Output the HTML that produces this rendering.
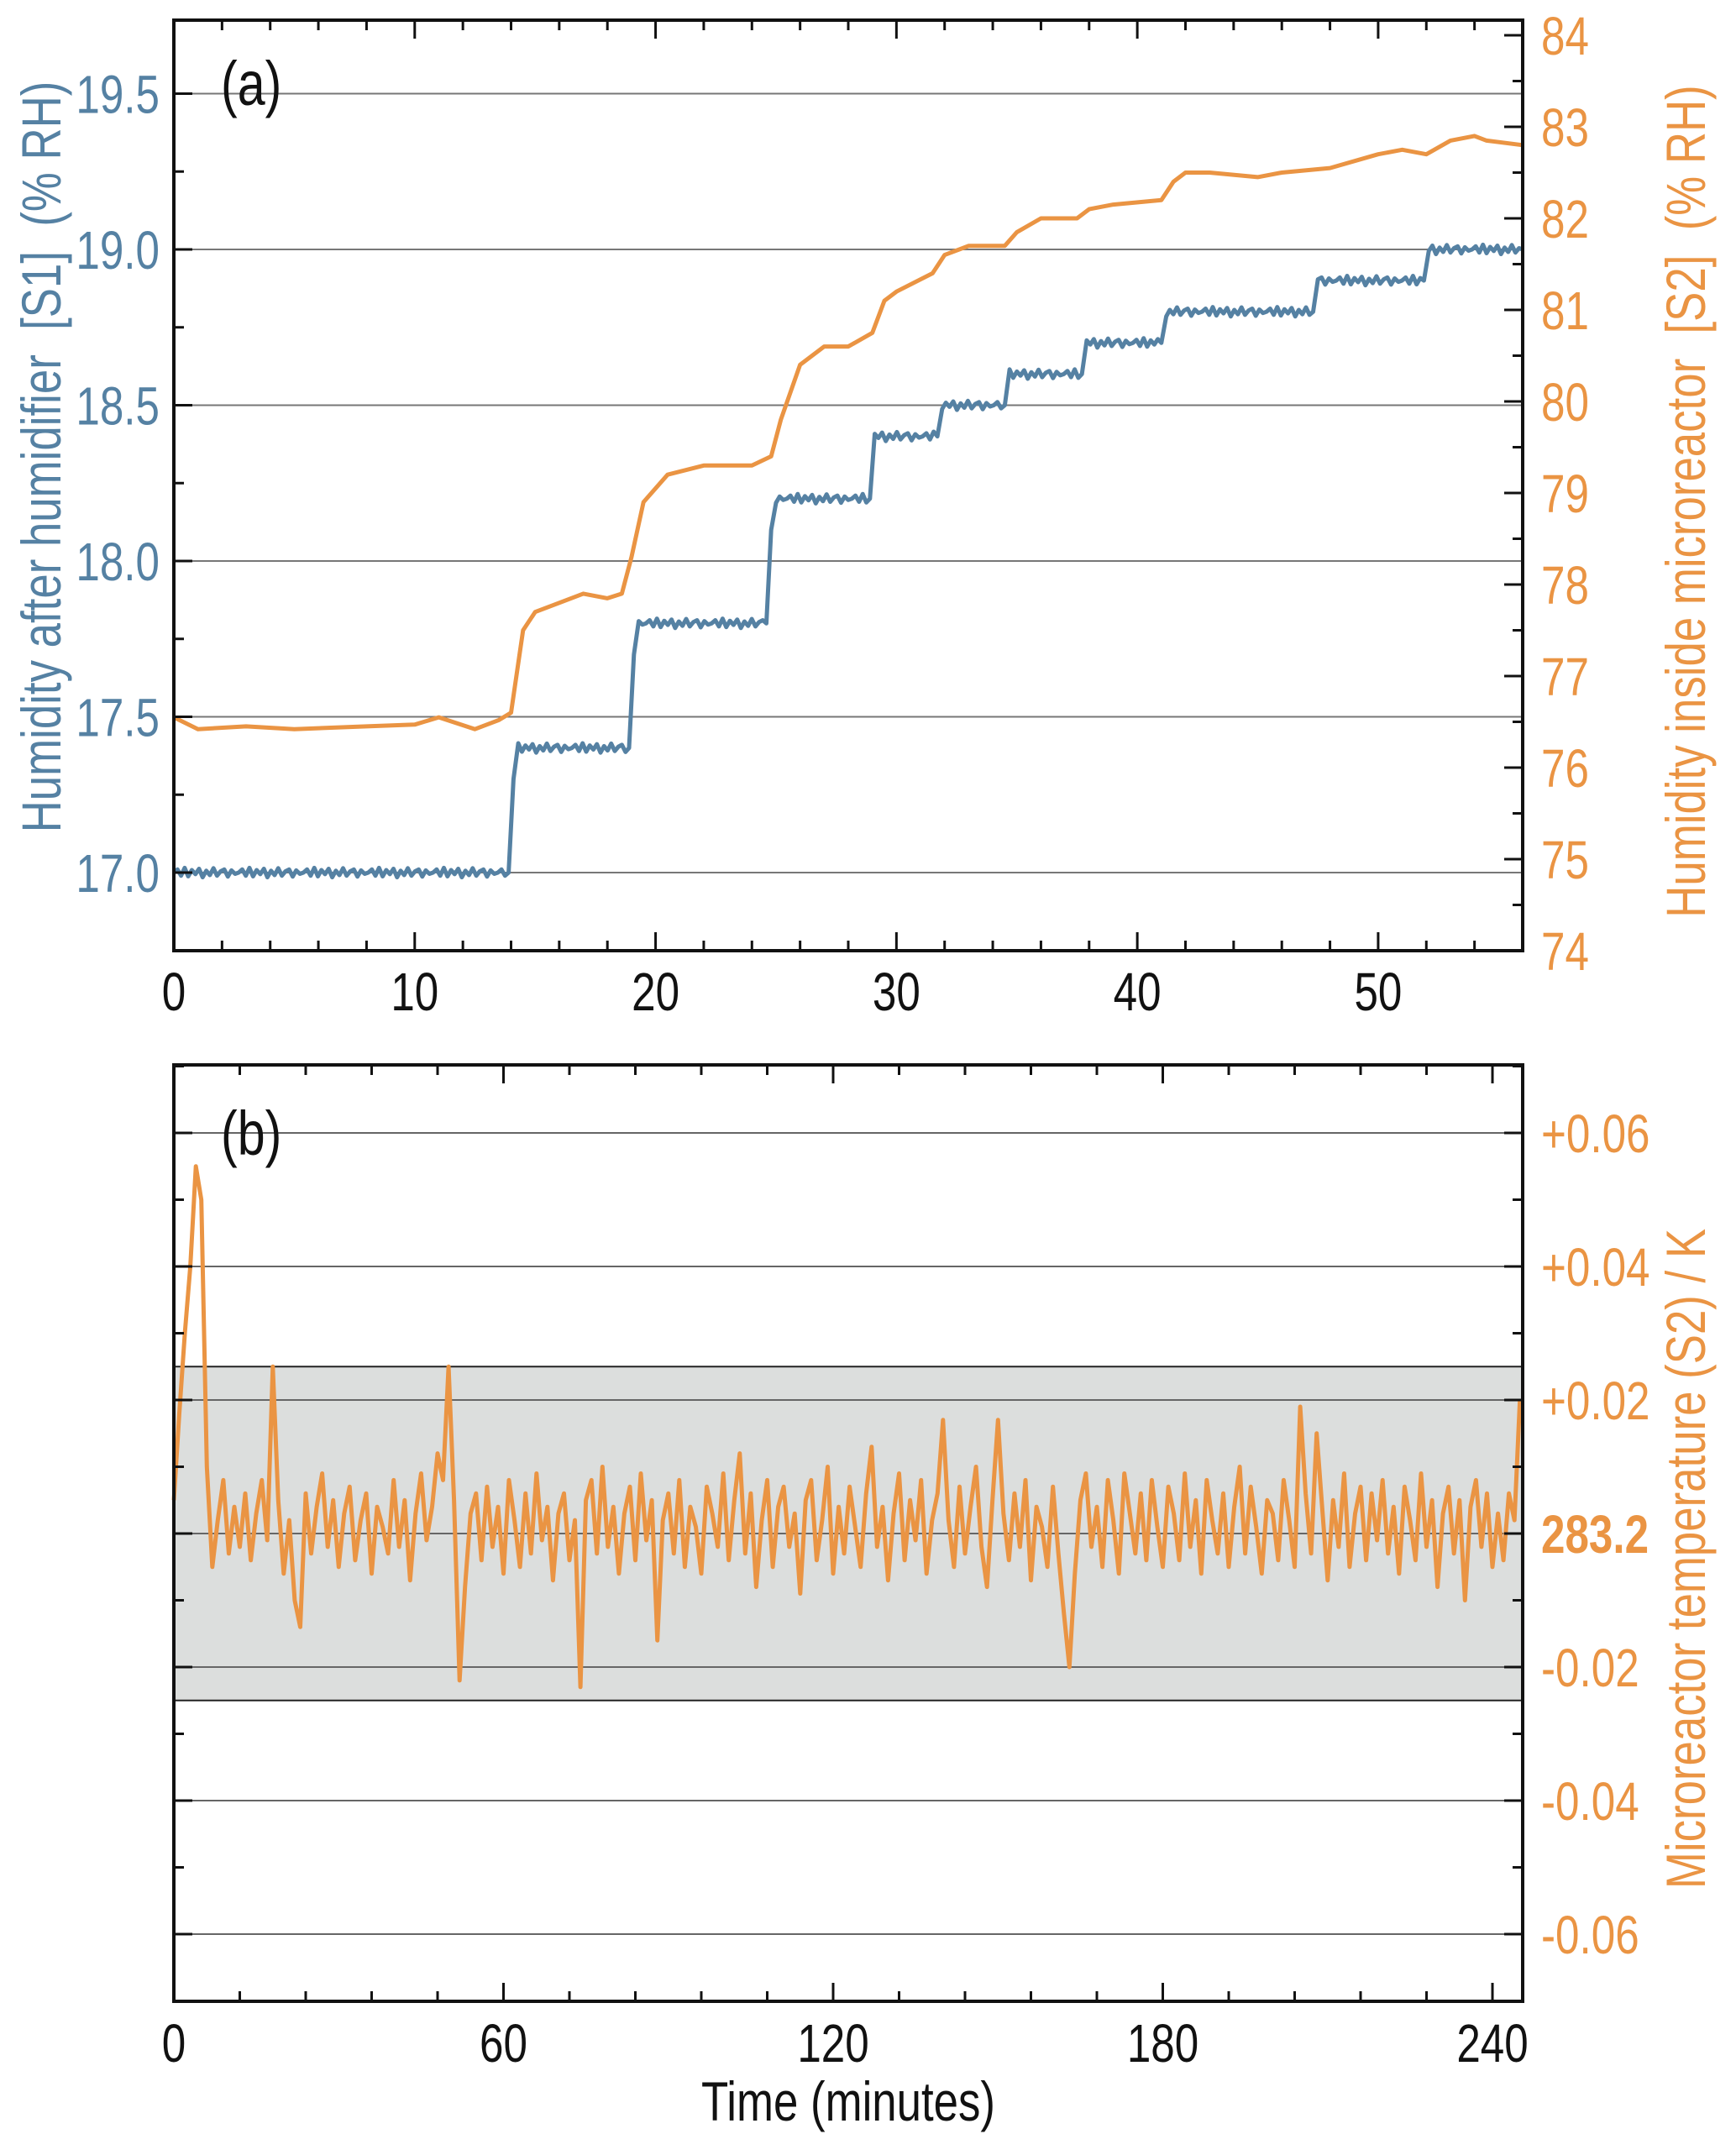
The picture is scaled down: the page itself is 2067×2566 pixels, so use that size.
<!DOCTYPE html>
<html><head><meta charset="utf-8"><style>
body{margin:0;background:#fff}
svg{display:block}
text{font-family:"Liberation Sans",Arial,sans-serif}
</style></head><body>
<svg id="chart" width="2067" height="2566" viewBox="0 0 2067 2566" xmlns="http://www.w3.org/2000/svg"></svg>
<script>
// Panel (a) data
const s1Times  = [0,13.9,14.1,14.3,18.9,19.1,19.3,24.6,24.8,25.0,28.9,29.1,31.7,31.9,34.5,34.7,37.7,37.9,41.0,41.2,47.3,47.5,51.9,52.1,56];
const s1Values = [17.0,17.0,17.3,17.4,17.4,17.7,17.8,17.8,18.1,18.2,18.2,18.4,18.4,18.5,18.5,18.6,18.6,18.7,18.7,18.8,18.8,18.9,18.9,19.0,19.0];
const s1Jitter = [0,0.01,-0.01,0.015,-0.012,0.008,-0.005,0.012,-0.015,0.006,-0.008,0.014,-0.01,0.004,0.01,-0.013,0.007,-0.004];
const s2Times  = [0,1,3,5,8,10,11,12.5,13.5,14,14.5,15,16,17,18,18.6,19,19.5,20.5,22,24,24.8,25.2,26,27,28,29,29.5,30,31.5,32,33,34.5,35,36,37.5,38,39,41,41.5,42,43,45,46,48,50,51,52,53,54,54.5,56];
const s2Values = [76.55,76.42,76.45,76.42,76.45,76.47,76.55,76.42,76.52,76.6,77.5,77.7,77.8,77.9,77.85,77.9,78.3,78.9,79.2,79.3,79.3,79.4,79.8,80.4,80.6,80.6,80.75,81.1,81.2,81.4,81.6,81.7,81.7,81.85,82.0,82.0,82.1,82.15,82.2,82.4,82.5,82.5,82.45,82.5,82.55,82.7,82.75,82.7,82.85,82.9,82.85,82.8];
const aXTicks = [0,10,20,30,40,50];
const aLeftTicks = [17.0,17.5,18.0,18.5,19.0,19.5];
const aRightTicks = [74,75,76,77,78,79,80,81,82,83,84];
// Panel (b) data: temperature deviation in mK, one value per minute
const tempDev = [5,18,30,40,55,50,10,-5,2,8,-3,
4,-2,6,-4,3,8,-1,25,5,-6,
2,-10,-14,6,-3,4,9,-2,5,-5,
3,7,-4,2,6,-6,4,1,-3,8,
-2,5,-7,3,9,-1,4,12,8,25,
5,-22,-8,3,6,-4,7,-2,4,-6,
8,2,-5,6,-3,9,-1,4,-7,3,
6,-4,2,-23,5,8,-3,10,-2,4,
-6,3,7,-4,9,-1,5,-16,2,6,
-3,8,-5,4,1,-6,7,3,-2,9,
-4,5,12,-3,6,-8,2,8,-5,4,
7,-2,3,-9,5,8,-4,2,10,-6,
4,-3,7,1,-5,6,13,-2,4,-7,
3,9,-4,5,-1,8,-6,2,6,17,
2,-5,7,-3,4,10,-2,-8,5,17,
3,-4,6,-2,8,-7,4,1,-5,7,
-3,-12,-20,-6,5,9,-2,4,-5,8,
2,-6,9,3,-3,6,-4,8,1,-5,
7,3,-4,9,-2,5,-6,8,2,-3,
6,-5,4,10,-3,7,1,-6,5,3,
-4,8,2,-5,19,6,-3,15,4,-7,
5,-2,9,-5,3,7,-4,6,-1,8,
-3,4,-6,7,2,-4,9,-2,5,-8,
3,7,-3,5,-10,4,8,-2,6,-5,
3,-4,6,2,20];
const bXTicks = [0,60,120,180,240];
const bRightTicks = [0.06,0.04,0.02,0,-0.02,-0.04,-0.06];
const bRightLabels = ["+0.06","+0.04","+0.02","283.2","-0.02","-0.04","-0.06"];
const bandLimit = 0.025;

const NS="http://www.w3.org/2000/svg";
const svg=document.getElementById('chart');
const BLUE="#5581a3", ORANGE="#ea9443";
function el(tag,attrs,parent){const e=document.createElementNS(NS,tag);for(const k in attrs)e.setAttribute(k,attrs[k]);(parent||svg).appendChild(e);return e;}
function txt(str,x,y,size,fill,anchor,rot,weight,sx){
  const t=el('text',{x:0,y:0,'font-size':size,fill:fill,'text-anchor':anchor||'middle','font-weight':weight||'normal',
    transform:`translate(${x},${y}) rotate(${rot||0}) scale(${sx||0.8},1)`});
  t.textContent=str;return t;}

const L=207,R=1813;
// ---------- Panel a ----------
const aT=24,aB=1132;
const ax=v=>L+(v-0)/56*(R-L);
const ayL=v=>1039-(v-17)*371;
const ayR=v=>1132-(v-74)*109;
const ga=el('g',{});


aLeftTicks.forEach(v=>{const g=el('line',{x1:L,x2:R,y1:ayL(v),y2:ayL(v),stroke:'#777','stroke-width':2},ga);
  });
let pts=[];let j=0;
for(let i=0;i<s1Times.length-1;i++){
  const t0=s1Times[i],t1=s1Times[i+1],v0=s1Values[i],v1=s1Values[i+1];
  const n=Math.max(1,Math.round((t1-t0)/0.15));
  for(let k=0;k<n;k++){const t=t0+(t1-t0)*k/n;const v=v0+(v1-v0)*k/n+(v0===v1?s1Jitter[(j++)%s1Jitter.length]:0);pts.push(ax(t).toFixed(1)+','+ayL(v).toFixed(1));}
}
pts.push(ax(56)+','+ayL(19.0));
const s1=el('polyline',{points:pts.join(' '),fill:'none',stroke:BLUE,'stroke-width':5,'stroke-linejoin':'round'},ga);

const s2=el('polyline',{points:s2Times.map((t,i)=>ax(t).toFixed(1)+','+ayR(s2Values[i]).toFixed(1)).join(' '),fill:'none',stroke:ORANGE,'stroke-width':5,'stroke-linejoin':'round'},ga);

const fa=el('rect',{x:L,y:aT,width:R-L,height:aB-aT,fill:'none',stroke:'#111','stroke-width':4},ga);

for(let v=0;v<=56;v+=2){const big=v%10===0;const x=ax(v);
  el('line',{x1:x,x2:x,y1:aB,y2:aB-(big?22:12),stroke:'#111','stroke-width':3},ga);
  el('line',{x1:x,x2:x,y1:aT,y2:aT+(big?22:12),stroke:'#111','stroke-width':3},ga);}
aXTicks.forEach(v=>{const t=txt(String(v),ax(v),1203,64,'#111','middle');});
for(let v=16.75;v<=19.75;v+=0.25){const y=ayL(v);if(y<aT||y>aB)continue;const big=Math.abs(v*2-Math.round(v*2))<1e-6;
  el('line',{x1:L,x2:L+(big?22:12),y1:y,y2:y,stroke:'#111','stroke-width':3},ga);}
aLeftTicks.forEach(v=>{const t=txt(v.toFixed(1),190,ayL(v)+23,64,BLUE,'end');});
for(let v=74;v<=84;v+=0.5){const y=ayR(v);const big=Number.isInteger(v);
  el('line',{x1:R,x2:R-(big?22:12),y1:y,y2:y,stroke:'#111','stroke-width':3},ga);}
aRightTicks.forEach(v=>{const t=txt(String(v),1835,ayR(v)+23,64,ORANGE,'start');});
let t;
t=txt('(a)',263,125,74,'#111','start');
t=txt('Humidity after humidifier\u00A0 [S1]\u00A0 (% RH)',72,544,66,BLUE,'middle',-90);
t=txt('Humidity inside microreactor\u00A0 [S2]\u00A0 (% RH)',2030,597,66,ORANGE,'middle',-90);

// ---------- Panel b ----------
const bT=1268,bB=2383;
const bx=v=>L+v/245.5*(R-L);
const by=v=>1826-v*7950;
const gb=el('g',{});


const band=el('rect',{x:L,y:by(bandLimit),width:R-L,height:by(-bandLimit)-by(bandLimit),fill:'#dcdedd',stroke:'#222','stroke-width':2},gb);

bRightTicks.forEach(v=>{const g=el('line',{x1:L,x2:R,y1:by(v),y2:by(v),stroke:'#666','stroke-width':2},gb);
  });
const tl=el('polyline',{points:tempDev.map((d,i)=>bx(i).toFixed(1)+','+by(d/1000).toFixed(1)).join(' '),fill:'none',stroke:ORANGE,'stroke-width':5,'stroke-linejoin':'round'},gb);

const fb=el('rect',{x:L,y:bT,width:R-L,height:bB-bT,fill:'none',stroke:'#111','stroke-width':4},gb);

for(let v=0;v<=245;v+=12){const big=v%60===0;const x=bx(v);
  el('line',{x1:x,x2:x,y1:bB,y2:bB-(big?22:12),stroke:'#111','stroke-width':3},gb);
  el('line',{x1:x,x2:x,y1:bT,y2:bT+(big?22:12),stroke:'#111','stroke-width':3},gb);}
for(let k=-7;k<=7;k++){const v=k*0.01;const y=by(v);if(y<bT||y>bB)continue;const big=k%2===0;
  el('line',{x1:L,x2:L+(big?22:12),y1:y,y2:y,stroke:'#111','stroke-width':3},gb);
  el('line',{x1:R,x2:R-(big?22:12),y1:y,y2:y,stroke:'#111','stroke-width':3},gb);}
bXTicks.forEach(v=>{const t=txt(String(v),bx(v),2455,64,'#111','middle');});
bRightTicks.forEach((v,i)=>{const t=txt(bRightLabels[i],1835,by(v)+23,64,ORANGE,'start',0,v===0?'bold':'normal');});
t=txt('(b)',263,1375,74,'#111','start');
t=txt('Microreactor temperature (S2) / K',2030,1856,66,ORANGE,'middle',-90);
t=txt('Time (minutes)',1010,2525,66,'#111','middle');
</script>
</body></html>
